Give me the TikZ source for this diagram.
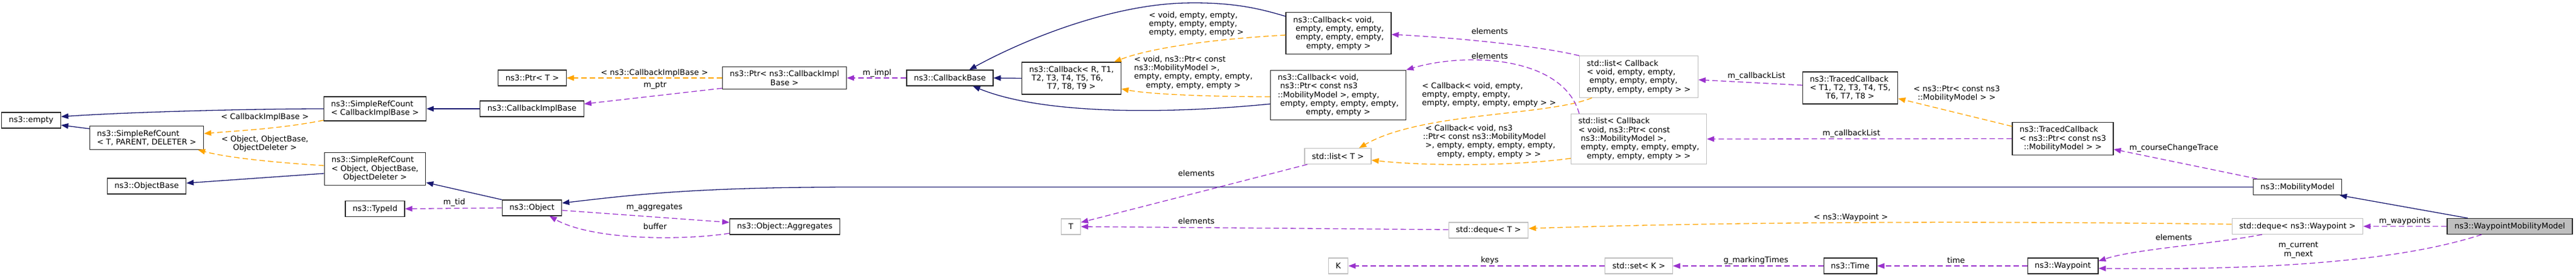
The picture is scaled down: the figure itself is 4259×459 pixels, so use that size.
\documentclass[tikz,border=0pt]{standalone}
\usepackage{fontspec}
\setmainfont{DejaVu Sans}
\usetikzlibrary{arrows.meta}
\definecolor{inhcol}{HTML}{191970}
\definecolor{usecol}{HTML}{9A32CD}
\definecolor{tplcol}{HTML}{FFA500}
\definecolor{extcol}{HTML}{BFBFBF}
\newcommand\lastln[1]{\hfill#1\hfill\null}
\tikzset{
  every node/.style={font=\fontsize{13}{14.3}\selectfont},
  cls/.style={draw=black!85, line width=1.2pt, fill=white, inner xsep=12pt, inner ysep=6.5pt, minimum height=26pt, align=left},
  ext/.style={cls, draw=extcol},
  cur/.style={cls, fill=extcol},
  lbl/.style={inner sep=0pt, align=left},
  inh/.style={draw=inhcol, line width=1.3pt, -{Triangle[length=12pt,width=9pt]}},
  use/.style={draw=usecol, line width=1.3pt, dash pattern=on 9pt off 5pt, -{Triangle[length=12pt,width=9pt]}},
  tpl/.style={use, draw=tplcol},
}
\begin{document}
\begin{tikzpicture}[x=1pt,y=-1pt]
  \useasboundingbox (0,0) rectangle (4259,459);
  % classes
  \draw
    (51.5,199) node[cls] (empty) {ns3::empty}
    (242.5,228) node[cls] (srcT) {ns3::SimpleRefCount\\\lastln{< T, PARENT, DELETER >}}
    (242.5,308) node[cls] (objbase) {ns3::ObjectBase}
    (620,180) node[cls] (srcCib) {ns3::SimpleRefCount\\\lastln{< CallbackImplBase >}}
    (620,279.5) node[cls] (srcObj) {ns3::SimpleRefCount\\< Object, ObjectBase,\\\lastln{ObjectDeleter >}}
    (620,345.5) node[cls] (typeid) {ns3::TypeId}
    (880,129) node[cls] (ptrT) {ns3::Ptr< T >}
    (879.5,180) node[cls] (cib) {ns3::CallbackImplBase}
    (879.5,344) node[cls] (object) {ns3::Object}
    (1297,129) node[cls] (ptrCib) {ns3::Ptr< ns3::CallbackImpl\\\lastln{Base >}}
    (1297.5,375) node[cls] (aggr) {ns3::Object::Aggregates}
    (1570.5,129) node[cls] (cbBase) {ns3::CallbackBase}
    (1771.5,129.5) node[cls] (cbR) {ns3::Callback< R, T1,\\\ T2, T3, T4, T5, T6,\\\lastln{T7, T8, T9 >}}
    (1770.5,375) node[ext] (T) {T}
    (2213,55) node[cls] (cbVoid) {ns3::Callback< void,\\\ empty, empty, empty,\\\ empty, empty, empty,\\\lastln{empty, empty >}}
    (2212.5,157.5) node[cls] (cbPtr) {ns3::Callback< void,\\\ ns3::Ptr< const ns3\\::MobilityModel >, empty,\\\ empty, empty, empty, empty,\\\lastln{empty, empty >}}
    (2212,258.5) node[ext] (listT) {std::list< T >}
    (2461,381) node[ext] (dequeT) {std::deque< T >}
    (2212.5,440) node[ext] (K) {K}
    (2709.5,127) node[ext] (listVoid) {std::list< Callback\\< void, empty, empty,\\\ empty, empty, empty,\\\lastln{empty, empty, empty > >}}
    (2709.5,230) node[ext] (listPtr) {std::list< Callback\\< void, ns3::Ptr< const\\\ ns3::MobilityModel >,\\\ empty, empty, empty, empty,\\\lastln{empty, empty, empty > >}}
    (2709.5,440) node[ext] (setK) {std::set< K >}
    (3059,145.5) node[cls] (tcbT) {ns3::TracedCallback\\< T1, T2, T3, T4, T5,\\\lastln{T6, T7, T8 >}}
    (3059,440) node[cls] (time) {ns3::Time}
    (3410.5,229.5) node[cls] (tcbPtr) {ns3::TracedCallback\\< ns3::Ptr< const ns3\\\lastln{::MobilityModel > >}}
    (3410.5,440) node[cls] (waypoint) {ns3::Waypoint}
    (3798.5,309.5) node[cls] (mobility) {ns3::MobilityModel}
    (3798.5,374.5) node[ext] (dequeWp) {std::deque< ns3::Waypoint >}
    (4149.5,374.5) node[cur] (wmm) {ns3::WaypointMobilityModel};
  % edge labels
  \draw
    (438,194) node[lbl] (l-cib) {< CallbackImplBase >}
    (438,238) node[lbl] (l-obj) {< Object, ObjectBase,\\\lastln{ObjectDeleter >}}
    (751,335) node[lbl] (l-tid) {m\_tid}
    (1082,121) node[lbl] (l-ptrcib) {< ns3::CallbackImplBase >}
    (1083,141) node[lbl] (l-ptr) {m\_ptr}
    (1082,343) node[lbl] (l-aggr) {m\_aggregates}
    (1083,375) node[lbl] (l-buf) {buffer}
    (1450,121) node[lbl] (l-impl) {m\_impl}
    (1978,40) node[lbl] (l-void) {< void, empty, empty,\\empty, empty, empty,\\\lastln{empty, empty, empty >}}
    (1973,120) node[lbl] (l-ptrmm) {< void, ns3::Ptr< const\\ns3::MobilityModel >,\\empty, empty, empty, empty,\\\lastln{empty, empty, empty >}}
    (2463,52) node[lbl] (l-el1) {elements}
    (2463,93) node[lbl] (l-el2) {elements}
    (2462,157) node[lbl] (l-lvoid) {< Callback< void, empty,\\empty, empty, empty,\\\lastln{empty, empty, empty, empty > >}}
    (2462,234) node[lbl] (l-lptr) {\ < Callback< void, ns3\\::Ptr< const ns3::MobilityModel\\\ >, empty, empty, empty, empty,\\\lastln{empty, empty, empty > >}}
    (1978,287) node[lbl] (l-el3) {elements}
    (1978,366) node[lbl] (l-el4) {elements}
    (2904,126) node[lbl] (l-cbl1) {m\_callbackList}
    (3061,221) node[lbl] (l-cbl2) {m\_callbackList}
    (3235,155) node[lbl] (l-tcb) {< ns3::Ptr< const ns3\\\lastln{::MobilityModel > >}}
    (3594,245) node[lbl] (l-trace) {m\_courseChangeTrace}
    (3976,366) node[lbl] (l-wps) {m\_waypoints}
    (3060,360) node[lbl] (l-wp) {< ns3::Waypoint >}
    (3594,393) node[lbl] (l-el5) {elements}
    (3800,414) node[lbl] (l-cur) {m\_current\\\lastln{m\_next}}
    (3234,431) node[lbl] (l-time) {time}
    (2903,431) node[lbl] (l-mark) {g\_markingTimes}
    (2463,431) node[lbl] (l-keys) {keys};
  % inheritance
  \begin{scope}[inh]
    \draw (srcCib.west) .. controls (420,180) and (220,185) .. ([yshift=6pt]empty.east);
    \draw ([yshift=15pt]srcT.west) -- ([yshift=-8pt]empty.east);
    \draw ([yshift=-7.5pt]srcObj.west) -- ([yshift=5pt]objbase.east);
    \draw (cib.west) -- (srcCib.east);
    \draw (object.north west) -- ([yshift=-22.5pt]srcObj.east);
    \draw (cbR.west) -- (cbBase.east);
    \draw ([yshift=28pt]cbVoid.west) .. controls (2085,15) and (2040,3) .. (1958,5)
      .. controls (1840,8) and (1700,62) .. ([xshift=32pt]cbBase.north);
    \draw ([yshift=-14.5pt]cbPtr.west) .. controls (1960,186) and (1735,194) .. ([xshift=38pt]cbBase.south);
    \draw (mobility.west) -- (1420,309.5) .. controls (1150,309.5) and (1050,322) .. ([yshift=8pt]object.east);
    \draw ([xshift=-69.5pt]wmm.north) -- ([xshift=-4pt]mobility.south east);
  \end{scope}
  % templates
  \begin{scope}[tpl]
    \draw ([yshift=-19pt]srcCib.west) .. controls (470,212) and (400,216) .. ([yshift=7pt]srcT.east);
    \draw ([yshift=5.5pt]srcObj.west) .. controls (470,270) and (380,262) .. ([xshift=-10pt]srcT.south east);
    \draw (ptrCib.west) -- (ptrT.east);
    \draw ([yshift=-3pt]cbVoid.west) .. controls (2000,65) and (1900,80) .. ([xshift=-12pt]cbR.north east);
    \draw ([yshift=-2.5pt]cbPtr.west) .. controls (2000,160) and (1900,156) .. ([yshift=-17.5pt]cbR.east);
    \draw ([xshift=21pt]listVoid.south west) .. controls (2560,192) and (2350,185) .. ([xshift=35pt]listT.north);
    \draw ([yshift=-32pt]listPtr.west) .. controls (2500,275) and (2360,275) .. ([yshift=-6.5pt]listT.east);
    \draw ([yshift=20.5pt]tcbPtr.west) -- ([yshift=-17.5pt]tcbT.east);
    \draw ([yshift=3.5pt]dequeWp.west) .. controls (3300,366) and (2900,366) .. ([yshift=3pt]dequeT.east);
  \end{scope}
  % members
  \begin{scope}[use]
    \draw (object.west) -- (typeid.east);
    \draw ([yshift=-17pt]ptrCib.west) -- ([yshift=8pt]cib.east);
    \draw ([yshift=-4pt]object.east) -- ([yshift=7pt]aggr.west);
    \draw ([yshift=-11pt]aggr.west) .. controls (1130,398) and (980,398) .. ([xshift=29pt]object.south);
    \draw (cbBase.west) -- (ptrCib.east);
    \draw (listVoid.north west) .. controls (2540,75) and (2400,62) .. ([yshift=-2pt]cbVoid.east);
    \draw ([xshift=14pt]listPtr.north west) .. controls (2585,95) and (2430,85) .. (cbPtr.north east);
    \draw ([xshift=5pt]listT.south west) -- ([yshift=7pt]T.east);
    \draw ([yshift=1pt]dequeT.west) -- (T.east);
    \draw ([yshift=4.5pt]tcbT.west) -- ([yshift=-5pt]listVoid.east);
    \draw (tcbPtr.west) -- (listPtr.east);
    \draw ([xshift=-66.5pt]mobility.north) -- ([yshift=-17.5pt]tcbPtr.east);
    \draw (wmm.west) -- (dequeWp.east);
    \draw ([xshift=-58.5pt]dequeWp.south) .. controls (3650,405) and (3530,412) .. ([yshift=8pt]waypoint.east);
    \draw ([xshift=-46.5pt]wmm.south) .. controls (3990,425) and (3800,448) .. ([yshift=-4pt]waypoint.east);
    \draw (waypoint.west) -- (time.east);
    \draw (time.west) -- (setK.east);
    \draw (setK.west) -- (K.east);
  \end{scope}
\end{tikzpicture}
\end{document}
